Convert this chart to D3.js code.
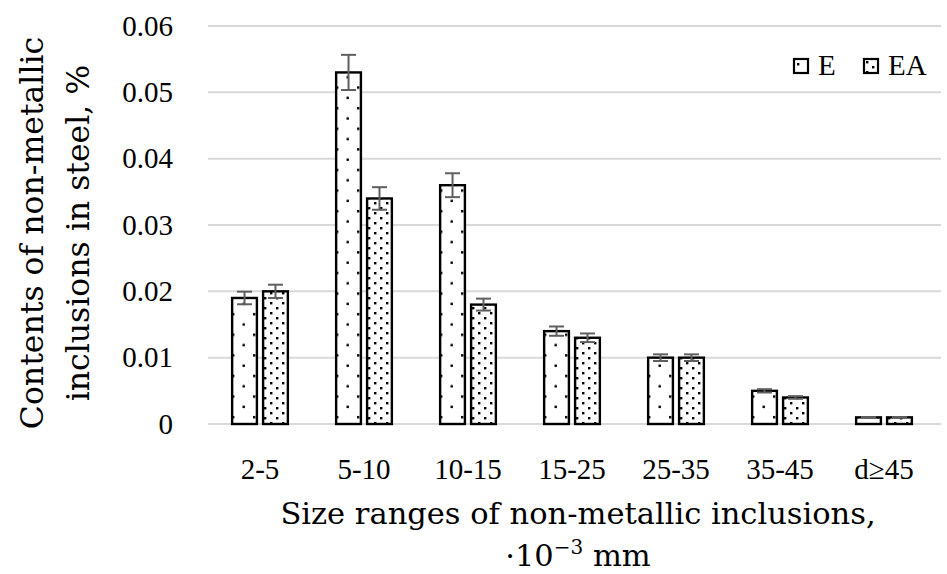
<!DOCTYPE html>
<html>
<head>
<meta charset="utf-8">
<script src="https://cdn.jsdelivr.net/npm/d3@7/dist/d3.min.js"></script>
<style>
  html, body { margin: 0; padding: 0; background: #fff; }
  svg { display: block; }
  text { font-family: "Liberation Serif", "DejaVu Serif", serif; fill: #000; }
  .title { font-family: "DejaVu Serif", "Liberation Serif", serif; }
</style>
</head>
<body>
<svg id="chart" width="947" height="574"></svg>
<script>
// Size ranges (×10⁻³ mm) and inclusion contents (%) for the two steel variants
const categories = ["2-5", "5-10", "10-15", "15-25", "25-35", "35-45", "d≥45"];
const seriesNames = ["E", "EA"];
const valuesE  = [0.019, 0.053, 0.036, 0.014, 0.010, 0.005, 0.001];
const valuesEA = [0.020, 0.034, 0.018, 0.013, 0.010, 0.004, 0.001];
const errorsE  = [0.00095, 0.00265, 0.0018, 0.0007, 0.0005, 0.00025, 0.00005];
const errorsEA = [0.0010, 0.0017, 0.0009, 0.00065, 0.0005, 0.0002, 0.00005];
const yTicks = [0, 0.01, 0.02, 0.03, 0.04, 0.05, 0.06];
const yTickLabels = ["0", "0.01", "0.02", "0.03", "0.04", "0.05", "0.06"];

const svg = d3.select("#chart");
const W = 947, H = 574;
const margin = { left: 208, right: 11, top: 26, bottom: 150 };
const x0 = margin.left, x1 = W - margin.right;
const yBottom = H - margin.bottom;

const x = d3.scaleBand().domain(categories).range([x0, x1]).paddingInner(0).paddingOuter(0);
const xs = d3.scaleBand().domain(seriesNames).range([0, x.bandwidth()]).paddingInner(0.2).paddingOuter(0.78);
const y = d3.scaleLinear().domain([0, 0.06]).range([yBottom, margin.top]);

// Dot fill patterns: sparse for E, dense for EA
const defs = svg.append("defs");
const pE = defs.append("pattern").attr("id", "patE").attr("patternUnits", "userSpaceOnUse")
  .attr("width", 21).attr("height", 20.6);
pE.append("rect").attr("width", 21).attr("height", 20.6).attr("fill", "#fff");
pE.append("rect").attr("x", 3).attr("y", 4).attr("width", 2.4).attr("height", 2.4).attr("fill", "#000");
pE.append("rect").attr("x", 13.5).attr("y", 14.3).attr("width", 2.4).attr("height", 2.4).attr("fill", "#000");

const pEA = defs.append("pattern").attr("id", "patEA").attr("patternUnits", "userSpaceOnUse")
  .attr("width", 12).attr("height", 10);
pEA.append("rect").attr("width", 12).attr("height", 10).attr("fill", "#fff");
pEA.append("rect").attr("x", 2).attr("y", 2).attr("width", 2.4).attr("height", 2.4).attr("fill", "#000");
pEA.append("rect").attr("x", 8).attr("y", 7).attr("width", 2.4).attr("height", 2.4).attr("fill", "#000");

const fills = { E: "url(#patE)", EA: "url(#patEA)" };

// Horizontal gridlines
svg.append("g").selectAll("line").data(yTicks).join("line")
  .attr("x1", x0).attr("x2", W - 6)
  .attr("y1", d => y(d)).attr("y2", d => y(d))
  .attr("stroke", "#d9d9d9").attr("stroke-width", 2);

// Y axis tick labels
const yAxis = d3.axisLeft(y).tickValues(yTicks).tickSize(0).tickPadding(0)
  .tickFormat((d, i) => yTickLabels[i]);
const gy = svg.append("g").attr("transform", `translate(173,0)`).call(yAxis);
gy.select(".domain").remove();
gy.selectAll("text").style("font-size", "29px").attr("fill", "#000");

// X axis category labels
const xAxis = d3.axisBottom(x).tickSize(0).tickPadding(0);
const gx = svg.append("g").attr("transform", `translate(0,${yBottom + 34})`).call(xAxis);
gx.select(".domain").remove();
gx.selectAll("text").style("font-size", "29px").attr("fill", "#000");

// Bars
const rows = categories.map((c, i) => ({
  cat: c,
  items: [
    { s: "E", v: valuesE[i], e: errorsE[i] },
    { s: "EA", v: valuesEA[i], e: errorsEA[i] }
  ]
}));

const groups = svg.append("g").selectAll("g").data(rows).join("g")
  .attr("transform", d => `translate(${x(d.cat)},0)`);

groups.selectAll("rect").data(d => d.items).join("rect")
  .attr("x", d => xs(d.s))
  .attr("y", d => y(d.v))
  .attr("width", xs.bandwidth())
  .attr("height", d => yBottom - y(d.v))
  .attr("fill", d => fills[d.s])
  .attr("stroke", "#000").attr("stroke-width", 2.4);

// Error bars
const capHalf = 7.5;
const cx = d => xs(d.s) + xs.bandwidth() / 2;
const eb = groups.selectAll("g.err").data(d => d.items).join("g").attr("class", "err")
  .attr("stroke", "#5f5f5f").attr("stroke-width", 2);
eb.append("line")
  .attr("x1", cx).attr("x2", cx)
  .attr("y1", d => y(d.v + d.e)).attr("y2", d => y(d.v - d.e));
eb.append("line")
  .attr("x1", d => cx(d) - capHalf).attr("x2", d => cx(d) + capHalf)
  .attr("y1", d => y(d.v + d.e)).attr("y2", d => y(d.v + d.e));
eb.append("line")
  .attr("x1", d => cx(d) - capHalf).attr("x2", d => cx(d) + capHalf)
  .attr("y1", d => y(d.v - d.e)).attr("y2", d => y(d.v - d.e));

// Legend
const legendX = [794, 864];
const lg = svg.append("g").selectAll("g").data(seriesNames).join("g")
  .attr("transform", (d, i) => `translate(${legendX[i]},59)`);
lg.append("rect").attr("width", 14).attr("height", 14)
  .attr("fill", d => fills[d]).attr("stroke", "#000").attr("stroke-width", 2.2);
lg.append("text").attr("x", 24).attr("y", 16).style("font-size", "29px").text(d => d);

// Axis titles
const yTitle = svg.append("text").attr("class", "title")
  .attr("transform", `translate(43,233) rotate(-90)`)
  .attr("text-anchor", "middle").style("font-size", "31.5px");
yTitle.append("tspan").attr("x", 0).attr("dy", 0).text("Contents of non-metallic");
yTitle.append("tspan").attr("x", 0).attr("dy", 46).text("inclusions in steel, %");

svg.append("text").attr("class", "title").attr("text-anchor", "middle")
  .attr("x", 578).attr("y", 524).style("font-size", "30.5px")
  .text("Size ranges of non-metallic inclusions,");
const l2 = svg.append("text").attr("class", "title").attr("text-anchor", "middle")
  .attr("x", 578).attr("y", 566).style("font-size", "30.5px");
l2.append("tspan").text("·10");
l2.append("tspan").attr("dy", -12).style("font-size", "20px").text("−3");
l2.append("tspan").attr("dy", 12).text(" mm");
</script>
</body>
</html>
